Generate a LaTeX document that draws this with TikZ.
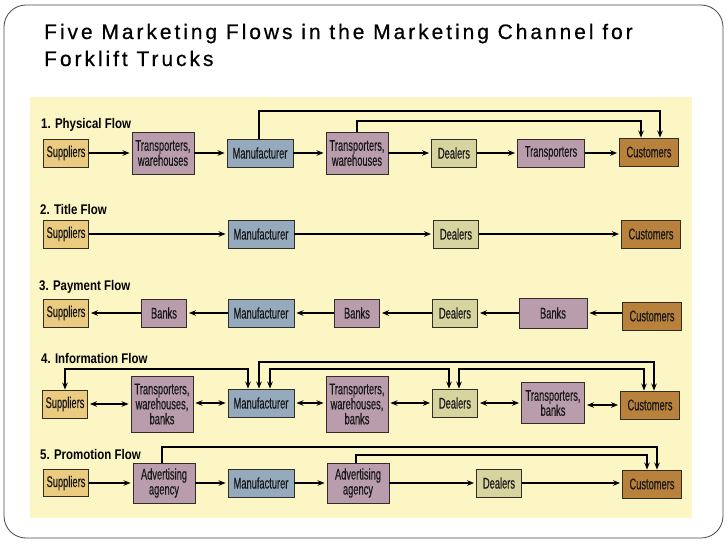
\documentclass[tikz,border=0pt]{standalone}
\usepackage{fontspec}
\setmainfont{Liberation Sans}
\newfontfamily\titlefont[LetterSpace=14,FakeBold=0.6]{Liberation Sans}
\newfontfamily\boxfont[FakeStretch=0.6,FakeBold=0.4]{Liberation Sans}
\newfontfamily\labfont[FakeStretch=0.82]{Liberation Sans}
\usetikzlibrary{arrows.meta,calc}
\definecolor{frameC}{RGB}{70,70,70}
\definecolor{panelC}{RGB}{252,246,196}
\definecolor{supC}{RGB}{234,203,128}
\definecolor{mauveC}{RGB}{185,157,173}
\definecolor{manuC}{RGB}{150,170,190}
\definecolor{dealC}{RGB}{216,212,160}
\definecolor{custC}{RGB}{185,130,60}
\definecolor{edgeC}{RGB}{50,45,40}
\tikzset{
  bx/.style={draw=edgeC, line width=0.9pt, inner sep=0pt, align=center,
    font=\boxfont\fontsize{15.5}{15}\selectfont, text=black!90},
  supbox/.style={bx, fill=supC, minimum width=45pt, minimum height=28pt},
  manubox/.style={bx, fill=manuC, minimum width=66pt, minimum height=28pt},
  dealbox/.style={bx, fill=dealC, minimum width=45pt, minimum height=28pt},
  custbox/.style={bx, fill=custC, minimum width=59pt, minimum height=28pt},
  mbox/.style={bx, fill=mauveC, minimum width=62pt, minimum height=42pt},
  flowlab/.style={anchor=base west, inner sep=0pt, font=\labfont\bfseries\fontsize{14}{15}\selectfont},
  arr/.style={line width=1.2pt, -{Stealth[length=7pt,width=5.5pt]}, shorten >=2pt},
  darr/.style={line width=1.2pt, {Stealth[length=7pt,width=5.5pt]}-{Stealth[length=7pt,width=5.5pt]}, shorten >=2pt, shorten <=2pt},
  larr/.style={line width=1.2pt, -{Stealth[length=7pt,width=5.5pt]}},
  ldarr/.style={line width=1.2pt, {Stealth[length=7pt,width=5.5pt]}-{Stealth[length=7pt,width=5.5pt]}},
}
\begin{document}
\begin{tikzpicture}[x=1pt,y=-1pt]
\useasboundingbox (0,0) rectangle (728,546);
\draw[frameC, line width=0.8pt, rounded corners=22pt] (4,5) rectangle (723,538);
\fill[panelC] (30,97) rectangle (692,518);
\node[anchor=base west, inner sep=0pt, font=\titlefont\fontsize{21}{27}\selectfont] (t1) at (44,39) {Five Marketing Flows in the Marketing Channel for};
\node[anchor=base west, inner sep=0pt, font=\titlefont\fontsize{21}{27}\selectfont] (t2) at (44,66) {Forklift Trucks};

% Row 1
\node[flowlab] (l1) at (41,128) {1. Physical Flow};
\node[supbox] (s1) at (66,153) {Suppliers};
\node[mbox] (ta1) at (163,153) {Transporters,\\warehouses};
\node[manubox] (m1) at (260,153) {Manufacturer};
\node[mbox] (tb1) at (357,153) {Transporters,\\warehouses};
\node[dealbox] (d1) at (454,153) {Dealers};
\node[bx, fill=mauveC, minimum width=67pt, minimum height=28pt] (tr1) at (551,153) {Transporters};
\node[custbox] (c1) at (649,152) {Customers};
\draw[arr] (s1) -- (ta1);
\draw[arr] (ta1) -- (m1);
\draw[arr] (m1) -- (tb1);
\draw[arr] (tb1) -- (d1);
\draw[arr] (d1) -- (tr1);
\draw[arr] (tr1) -- (c1.west |- tr1);
\draw[larr] ([xshift=-1pt]m1.north) -- ([xshift=-1pt]m1.north |- 0,111) -| ([xshift=11pt]c1.north);
\draw[larr] (tb1.north) -- (tb1.north |- 0,121) -| ([xshift=-8pt]c1.north);

% Row 2
\node[flowlab] (l2) at (40,214) {2. Title Flow};
\node[supbox] (s2) at (66,234) {Suppliers};
\node[manubox] (m2) at (261,234) {Manufacturer};
\node[dealbox] (d2) at (456,234) {Dealers};
\node[custbox] (c2) at (651,234) {Customers};
\draw[arr] (s2) -- (m2);
\draw[arr] (m2) -- (d2);
\draw[arr] (d2) -- (c2);

% Row 3
\node[flowlab] (l3) at (39,290) {3. Payment Flow};
\node[supbox] (s3) at (66,313) {Suppliers};
\node[bx, fill=mauveC, minimum width=45pt, minimum height=28pt] (ba3) at (164,313) {Banks};
\node[manubox] (m3) at (261,313) {Manufacturer};
\node[bx, fill=mauveC, minimum width=45pt, minimum height=28pt] (bb3) at (357,313) {Banks};
\node[dealbox] (d3) at (455,313) {Dealers};
\node[bx, fill=mauveC, minimum width=68pt, minimum height=30pt] (bc3) at (553,313) {Banks};
\node[custbox] (c3) at (652,316) {Customers};
\draw[arr] (c3.west |- bc3) -- (bc3);
\draw[arr] (bc3) -- (d3);
\draw[arr] (d3) -- (bb3);
\draw[arr] (bb3) -- (m3);
\draw[arr] (m3) -- (ba3);
\draw[arr] (ba3) -- (s3);

% Row 4
\node[flowlab] (l4) at (41,363) {4. Information Flow};
\node[supbox] (s4) at (65,404) {Suppliers};
\node[mbox, minimum height=56pt] (ta4) at (162,404) {Transporters,\\warehouses,\\banks};
\node[manubox] (m4) at (261,403) {Manufacturer};
\node[mbox, minimum height=56pt] (tb4) at (357,404) {Transporters,\\warehouses,\\banks};
\node[dealbox] (d4) at (455,403) {Dealers};
\node[mbox, minimum width=63pt, minimum height=41pt] (tc4) at (553,403) {Transporters,\\banks};
\node[custbox] (c4) at (650,405) {Customers};
\draw[darr] (s4) -- (ta4.west |- s4);
\draw[darr] (ta4.east |- m4) -- (m4);
\draw[darr] (m4) -- (tb4.west |- m4);
\draw[darr] (tb4.east |- d4) -- (d4);
\draw[darr] (d4) -- (tc4.west |- d4);
\draw[darr] (tc4.east |- c4) -- (c4);
\draw[ldarr] (s4.north) -- (s4.north |- 0,369) -| ([xshift=-13pt]m4.north);
\draw[ldarr] ([xshift=-2pt]m4.north) -- ([xshift=-2pt]m4.north |- 0,362) -| ([xshift=4pt]c4.north);
\draw[ldarr] ([xshift=9pt]m4.north) -- ([xshift=9pt]m4.north |- 0,369) -| ([xshift=-6pt]d4.north);
\draw[ldarr] ([xshift=4pt]d4.north) -- ([xshift=4pt]d4.north |- 0,369) -| ([xshift=-6pt]c4.north);

% Row 5
\node[flowlab] (l5) at (40,459) {5. Promotion Flow};
\node[supbox, minimum height=27pt] (s5) at (66,483) {Suppliers};
\node[mbox, minimum height=40pt] (aa5) at (164,483) {Advertising\\agency};
\node[manubox] (m5) at (261,483) {Manufacturer};
\node[mbox, minimum height=40pt] (ab5) at (358,483) {Advertising\\agency};
\node[dealbox] (d5) at (499,483) {Dealers};
\node[custbox] (c5) at (652,484) {Customers};
\draw[arr] (s5) -- (aa5);
\draw[arr] (aa5) -- (m5);
\draw[arr] (m5) -- (ab5);
\draw[arr] (ab5) -- (d5);
\draw[arr] (d5) -- (c5.west |- d5);
\draw[larr] ([xshift=-2pt]aa5.north) -- ([xshift=-2pt]aa5.north |- 0,447) -| ([xshift=5pt]c5.north);
\draw[larr] ([xshift=-2pt]ab5.north) -- ([xshift=-2pt]ab5.north |- 0,455) -| ([xshift=-5pt]c5.north);
\end{tikzpicture}
\end{document}
